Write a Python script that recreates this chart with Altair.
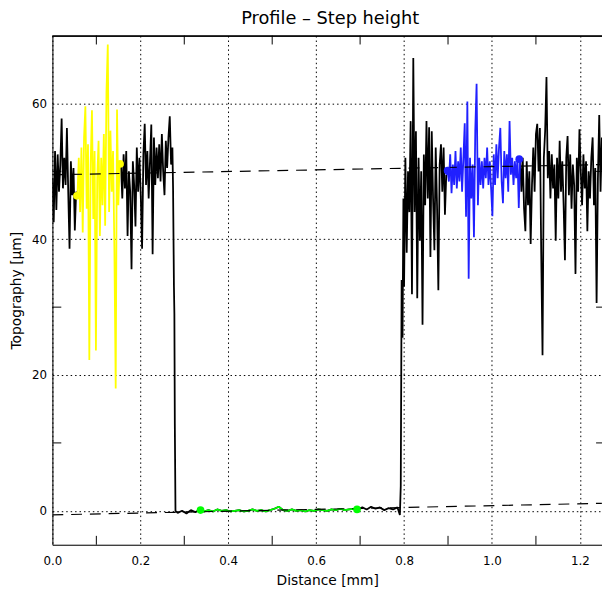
import altair as alt
import pandas as pd

# ---------------- data (µm vs mm) ----------------
left_x0, left_dx = 0.000, 0.003
left_vals = [49.0, 42.5, 53.0, 44.3, 52.5, 47.0, 51.0, 57.8, 47.5, 52.0, 48.0,
             56.4, 47.0, 38.6, 51.5, 46.5, 50.5, 41.3, 47.0]

yellow_x0, yellow_dx = 0.057, 0.003
yellow_vals = [46.4, 52.0, 44.0, 53.5, 41.0, 55.0, 59.6, 44.5, 54.0, 22.2, 51.0,
               59.0, 43.0, 53.0, 23.6, 49.0, 54.5, 40.5, 52.0, 45.0, 55.5, 42.0,
               61.7, 68.7, 44.0, 56.0, 47.0, 53.0, 38.5, 18.0, 59.1, 45.0, 51.1]

mid_x0, mid_dx = 0.156, 0.003
mid_vals = [51.0, 46.0, 52.5, 47.5, 53.0, 40.5, 50.0, 47.0, 35.6, 51.5, 48.0,
            41.9, 53.5, 47.0, 52.0, 46.5, 38.6, 52.5, 57.0, 48.0, 53.0, 46.0,
            51.5, 56.9, 37.8, 55.0, 48.0, 53.5, 49.0, 54.0, 48.5, 55.5, 50.0,
            46.5, 54.5, 50.5, 55.0, 58.1, 51.0, 53.5]

drop_x = [0.2745, 0.2765, 0.2775, 0.2785, 0.2800]
drop_vals = [47.5, 33.0, 29.0, 12.7, 0.0]

floor_x0, floor_dx = 0.285, 0.010
floor_vals = [-0.3, 0.0, -0.4, 0.1, -0.2, 0.1, -0.1, 0.1, -0.1, 0.2, 0.0, 0.1,
              -0.1, 0.0, 0.1, -0.1, 0.0, 0.2, 0.0, 0.1, -0.1, 0.1, 0.3, 0.6,
              0.1, 0.0, 0.2, 0.0, 0.1, -0.1, 0.1, 0.0, 0.2, 0.1, 0.0, 0.2, 0.1,
              0.3, 0.1, 0.2, 0.3, 0.2, 0.5, 0.2, 0.6, 0.3, 0.5, 0.1, 0.4, 0.2, 0.5]

rise_x = [0.7905, 0.7925, 0.7945, 0.7965, 0.7985, 0.8000]
rise_vals = [-0.6, 3.7, 34.0, 25.5, 46.0, 33.0]

right_x0, right_dx = 0.803, 0.003
right_vals = [52.0, 38.0, 50.0, 44.0, 57.4, 31.9, 66.7, 44.0, 55.9, 31.3, 52.0,
              39.8, 50.0, 27.4, 52.5, 45.0, 57.4, 46.0, 56.5, 37.4, 55.9, 46.0,
              38.4, 53.5, 45.0, 32.5, 51.0, 54.0, 47.0, 53.5, 43.6]

blue_x0, blue_dx = 0.896, 0.003
blue_vals = [49.5, 50.1, 48.5, 52.5, 46.8, 51.0, 48.0, 53.0, 47.5, 51.5, 48.5,
             53.5, 47.0, 52.0, 57.1, 43.3, 60.3, 34.2, 52.0, 46.0, 51.0, 40.3,
             56.0, 62.9, 45.0, 52.0, 48.0, 51.5, 47.5, 52.0, 49.0, 53.5, 48.0,
             51.5, 47.5, 43.4, 52.5, 48.0, 54.0, 49.0, 53.5, 56.4, 48.5, 45.3,
             53.0, 49.0, 52.5, 47.0, 57.4, 49.5, 52.0, 48.0, 51.5, 49.0, 52.0,
             44.6, 51.8]

end_x0, end_dx = 1.067, 0.003
end_vals = [47.0, 52.0, 44.5, 41.2, 51.5, 45.0, 50.0, 39.3, 48.0, 53.5, 47.0,
            55.5, 57.0, 50.0, 56.4, 38.1, 22.9, 52.0, 56.0, 63.9, 49.0, 53.0,
            46.0, 52.5, 47.5, 51.0, 39.8, 52.0, 46.0, 54.5, 47.0, 51.5, 45.0,
            36.9, 52.0, 55.2, 46.5, 52.5, 44.5, 51.0, 48.0, 34.9, 52.0, 47.0,
            56.2, 50.0, 45.0, 52.5, 47.5, 51.5, 41.2, 50.0, 46.0, 52.0, 55.0,
            45.0, 50.5, 30.6, 49.0, 58.3, 47.0, 55.0]

green_range = [0.335, 0.690]

yellow_dot_x, yellow_dot_y = [0.0558, 0.154], [46.4, 51.1]
green_dot_x, green_dot_y = [0.337, 0.693], [0.1, 0.2]
blue_dot_x, blue_dot_y = [0.899, 1.062], [50.1, 51.8]

fit_x = [0.0, 1.25]
fit_top = [49.5, 51.0]
fit_bottom = [-0.6, 1.1]

x_major = [0.0, 0.2, 0.4, 0.6, 0.8, 1.0, 1.2]
x_minor = [0.1, 0.3, 0.5, 0.7, 0.9, 1.1]
y_major = [0, 20, 40, 60]
y_minor = [10, 30, 50]

# ---------------- build tables ----------------
def seg(x0, dx, vals):
    return [(round(x0 + i * dx, 5), v) for i, v in enumerate(vals)]

yellow_pts = seg(yellow_x0, yellow_dx, yellow_vals)
blue_pts = seg(blue_x0, blue_dx, blue_vals)
floor_pts = seg(floor_x0, floor_dx, floor_vals)
black_a = seg(left_x0, left_dx, left_vals) + yellow_pts[:1]
black_b = (yellow_pts[-1:] + seg(mid_x0, mid_dx, mid_vals) + list(zip(drop_x, drop_vals))
           + floor_pts + list(zip(rise_x, rise_vals)) + seg(right_x0, right_dx, right_vals)
           + blue_pts[:1])
black_c = blue_pts[-1:] + seg(end_x0, end_dx, end_vals)
green_pts = [p for p in floor_pts if green_range[0] <= p[0] <= green_range[1]]

df_black = pd.DataFrame(
    [(x, y, "a") for x, y in black_a] + [(x, y, "b") for x, y in black_b]
    + [(x, y, "c") for x, y in black_c], columns=["x", "y", "part"])
df_yellow = pd.DataFrame(yellow_pts, columns=["x", "y"])
df_blue = pd.DataFrame(blue_pts, columns=["x", "y"])
df_green = pd.DataFrame(green_pts, columns=["x", "y"])
df_fit = pd.DataFrame({"x": fit_x * 2, "y": fit_top + fit_bottom,
                       "g": ["top"] * 2 + ["bottom"] * 2})
df_ydot = pd.DataFrame({"x": yellow_dot_x, "y": yellow_dot_y})
df_gdot = pd.DataFrame({"x": green_dot_x, "y": green_dot_y})
df_bdot = pd.DataFrame({"x": blue_dot_x, "y": blue_dot_y})
df_xminor = pd.DataFrame({"x": x_minor})
df_yminor = pd.DataFrame({"y": y_minor})

W, H = 557, 516
FONT = "DejaVu Sans"

xenc = alt.X("x:Q", scale=alt.Scale(domain=[0, 1.2503], nice=False, zero=False),
             axis=alt.Axis(values=x_major, format=".1f", grid=True, gridDash=[1.5, 3],
                           gridColor="black", gridOpacity=1, gridWidth=1,
                           ticks=False, tickSize=0, domainColor="black", domainWidth=1,
                           labelColor="black", labelFont=FONT, labelFontSize=12,
                           labelPadding=11, labelFlush=False, labelOverlap=False,
                           title="Distance [mm]", titleFont=FONT, titleFontSize=14,
                           titleFontWeight="normal", titleColor="black", titlePadding=7))
yenc = alt.Y("y:Q", scale=alt.Scale(domain=[-5, 70], nice=False, zero=False),
             axis=alt.Axis(values=y_major, format="d", grid=True, gridDash=[1.5, 3],
                           gridColor="black", gridOpacity=1, gridWidth=1,
                           ticks=False, tickSize=0, domainColor="black", domainWidth=1,
                           labelColor="black", labelFont=FONT, labelFontSize=12,
                           labelPadding=6, labelFlush=False, labelOverlap=False,
                           title="Topography [µm]", titleFont=FONT, titleFontSize=14,
                           titleFontWeight="normal", titleColor="black", titlePadding=8))

LINE = dict(strokeJoin="bevel", clip=True, strokeWidth=1.8)
black = alt.Chart(df_black).mark_line(color="black", **LINE).encode(x=xenc, y=yenc, detail="part:N")
yel = alt.Chart(df_yellow).mark_line(color="#ffff00", **LINE).encode(x=xenc, y=yenc)
blu = alt.Chart(df_blue).mark_line(color="#2020ff", **LINE).encode(x=xenc, y=yenc)
grn = alt.Chart(df_green).mark_line(color="#00ff00", **LINE).encode(x=xenc, y=yenc)
fit = alt.Chart(df_fit).mark_line(color="black", strokeWidth=1.2, strokeDash=[11, 8], clip=True).encode(
    x=xenc, y=yenc, detail="g:N")
ydot = alt.Chart(df_ydot).mark_circle(color="#ffff00", size=60, opacity=1).encode(x=xenc, y=yenc)
gdot = alt.Chart(df_gdot).mark_circle(color="#00ff00", size=60, opacity=1).encode(x=xenc, y=yenc)
bdot = alt.Chart(df_bdot).mark_circle(color="#2020ff", size=60, opacity=1).encode(x=xenc, y=yenc)

tick_bottom = alt.Chart(df_xminor).mark_rule(color="black", strokeWidth=1).encode(
    x=xenc, y=alt.value(H), y2=alt.value(H - 9))
tick_top = alt.Chart(df_xminor).mark_rule(color="black", strokeWidth=1).encode(
    x=xenc, y=alt.value(0), y2=alt.value(9))
tick_left = alt.Chart(df_yminor).mark_rule(color="black", strokeWidth=1).encode(
    y=yenc, x=alt.value(0), x2=alt.value(9))
tick_right = alt.Chart(df_yminor).mark_rule(color="black", strokeWidth=1).encode(
    y=yenc, x=alt.value(W - 6), x2=alt.value(W))
top_border = alt.Chart(df_yminor).mark_rule(color="black", strokeWidth=1).encode(
    x=alt.value(0), x2=alt.value(W), y=alt.value(0.5))

chart = alt.layer(
    black, yel, blu, grn, fit, ydot, gdot, bdot,
    tick_bottom, tick_top, tick_left, tick_right, top_border
).properties(
    width=W, height=H,
    autosize=alt.AutoSizeParams(type="none"),
    padding={"left": 45, "top": 24, "right": 0, "bottom": 50},
    title=alt.TitleParams("Profile – Step height", font=FONT, fontSize=18,
                          fontWeight="normal", color="black", anchor="middle",
                          offset=7, dx=3),
).configure_view(stroke=None).configure(background="white")

chart.save("out.html", embed_options={"renderer": "svg", "actions": False})
